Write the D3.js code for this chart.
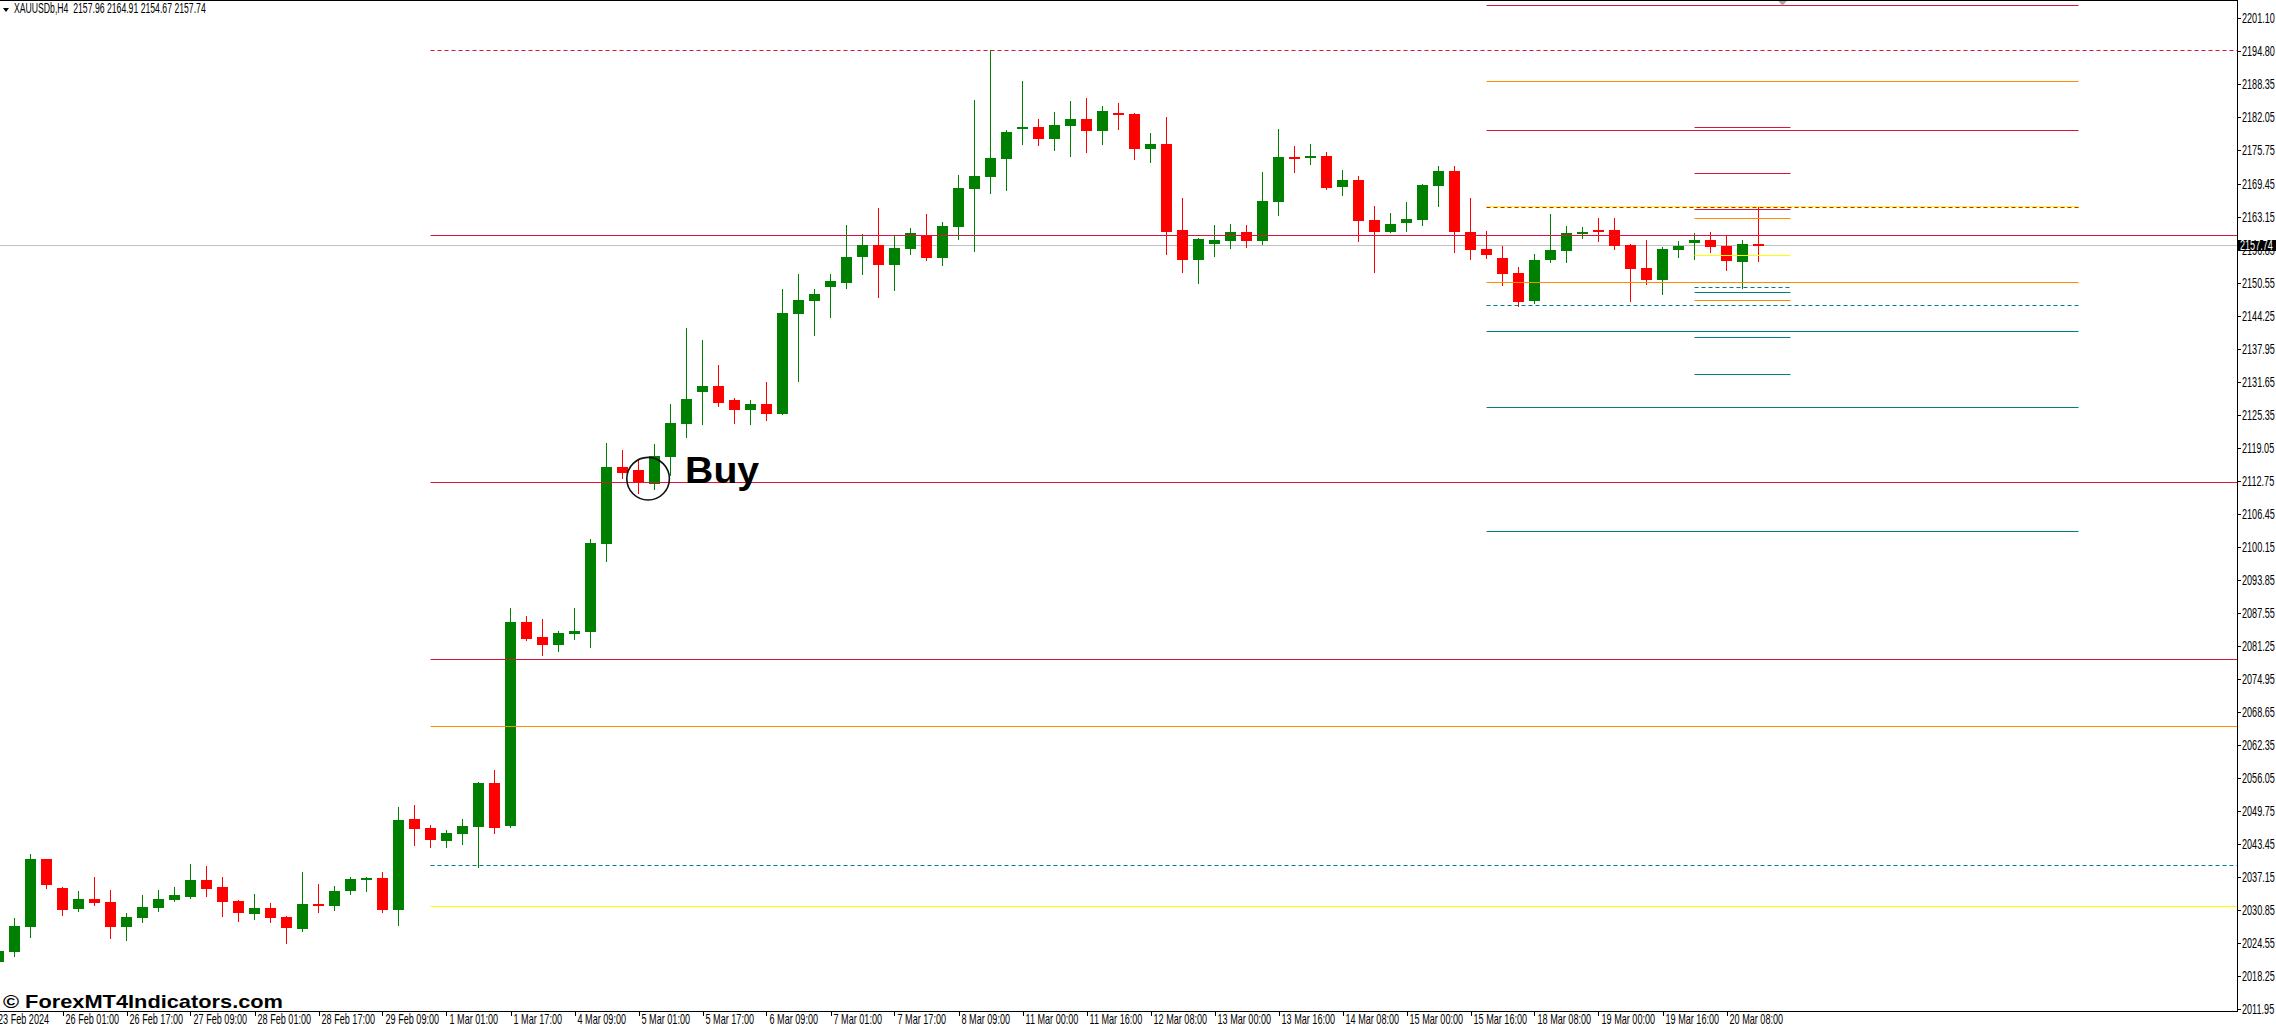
<!DOCTYPE html>
<html><head><meta charset="utf-8">
<script src="https://cdnjs.cloudflare.com/ajax/libs/d3/7.8.5/d3.min.js"></script>
<style>html,body{margin:0;padding:0;background:#fff;overflow:hidden}text{font-family:"Liberation Sans",Arial,sans-serif}</style>
</head><body><svg id="c" width="2276" height="1027"></svg>
<script>
// ---------- DATA (XAUUSDb, H4) ----------
const title = "XAUUSDb,H4  2157.96 2164.91 2154.67 2157.74";
const opens = [
2021.01,2022.86,2027.68,2040.62,2035.16,2031.07,2032.98,2032.42,2027.70,2029.41,
2031.32,2032.79,2033.35,2036.61,2035.28,2032.61,2030.18,2031.27,2029.55,2027.30,
2032.02,2031.64,2034.56,2036.67,2036.99,2030.94,2048.25,2046.53,2044.04,2045.38,
2046.71,2055.16,2046.90,2085.82,2082.95,2081.42,2083.52,2083.90,2100.69,2115.38,
2114.80,2112.17,2117.27,2123.58,2129.74,2130.89,2128.16,2126.24,2127.39,2125.55,
2144.56,2147.04,2149.71,2150.46,2155.42,2157.72,2153.90,2156.95,2159.63,2155.23,
2161.15,2168.41,2170.69,2174.11,2179.85,2180.23,2177.93,2180.42,2181.76,2179.46,
2182.90,2182.72,2176.03,2176.98,2160.60,2154.86,2157.90,2158.48,2160.20,2158.49,
2165.92,2174.50,2174.50,2174.71,2168.78,2170.13,2162.49,2160.20,2161.92,2162.49,
2168.98,2171.84,2160.20,2156.96,2155.24,2152.39,2147.03,2154.86,2156.57,2159.83,
2160.59,2160.59,2157.72,2153.34,2151.04,2156.77,2158.11,2158.68,2157.53,2154.48,
2157.96];
const highs = [
2023.45,2029.43,2041.60,2040.67,2035.25,2034.51,2037.19,2034.71,2030.32,2033.76,
2034.70,2035.28,2039.67,2039.29,2037.19,2032.75,2033.95,2032.23,2029.66,2038.16,
2035.85,2035.47,2037.18,2037.23,2038.14,2050.53,2050.93,2047.10,2046.14,2048.25,
2055.35,2057.58,2088.49,2086.97,2086.40,2084.10,2088.49,2101.64,2119.96,2118.63,
2116.72,2119.77,2127.45,2141.89,2139.60,2134.83,2128.54,2128.16,2131.59,2149.33,
2152.19,2149.33,2152.19,2161.53,2159.82,2164.78,2159.44,2160.96,2163.63,2162.11,
2171.08,2185.38,2194.95,2179.67,2189.00,2181.76,2183.09,2185.19,2185.76,2184.23,
2184.80,2182.91,2179.09,2182.13,2166.68,2159.06,2161.52,2161.72,2161.53,2171.64,
2179.85,2176.61,2176.99,2175.46,2172.03,2170.90,2165.15,2163.82,2165.92,2169.37,
2172.80,2172.80,2166.68,2160.39,2157.53,2153.54,2156.01,2163.63,2161.35,2161.16,
2162.87,2162.87,2157.91,2158.68,2157.33,2158.48,2160.01,2160.20,2159.44,2158.68,
2164.91];
const lows = [
2020.57,2022.15,2025.76,2035.13,2029.93,2030.68,2031.83,2025.58,2025.21,2028.64,
2030.74,2032.64,2033.23,2033.60,2029.78,2028.84,2029.22,2028.64,2024.63,2026.92,
2030.55,2030.93,2033.99,2034.56,2030.54,2028.08,2043.33,2042.95,2042.95,2043.46,
2039.14,2045.63,2046.70,2082.37,2079.51,2080.27,2082.56,2081.05,2097.45,2113.27,
2110.46,2111.21,2113.91,2121.15,2123.64,2127.07,2123.83,2123.64,2124.40,2125.45,
2131.84,2140.55,2143.98,2149.52,2152.19,2147.80,2149.13,2156.00,2154.86,2153.90,
2158.86,2156.57,2167.64,2168.22,2176.98,2176.78,2175.84,2174.70,2175.45,2176.97,
2179.84,2174.11,2173.54,2156.01,2152.57,2150.48,2155.62,2157.14,2157.33,2157.91,
2163.45,2171.64,2173.16,2168.48,2167.25,2158.48,2152.57,2160.12,2160.39,2161.53,
2165.16,2156.38,2155.05,2155.23,2150.09,2146.07,2146.65,2154.48,2154.48,2159.05,
2158.48,2156.96,2147.04,2150.28,2148.38,2155.42,2155.04,2156.38,2152.95,2149.53,
2154.67];
const closes = [
2023.06,2027.84,2040.64,2035.64,2030.88,2032.98,2032.16,2027.69,2029.55,2031.46,
2032.98,2033.75,2036.61,2034.94,2032.41,2030.37,2031.27,2029.41,2027.51,2032.03,
2031.64,2034.51,2036.80,2036.99,2030.92,2048.05,2046.39,2044.23,2045.57,2046.91,
2055.16,2046.53,2085.82,2082.56,2081.42,2083.72,2084.09,2100.89,2115.38,2114.23,
2112.51,2117.48,2123.78,2128.35,2130.89,2127.59,2126.24,2127.39,2125.55,2144.75,
2147.23,2148.38,2150.86,2155.42,2157.72,2153.90,2157.15,2160.01,2155.23,2161.35,
2168.59,2170.89,2174.31,2179.28,2180.23,2177.93,2180.61,2181.76,2179.46,2183.28,
2182.52,2176.02,2176.98,2160.20,2154.86,2158.87,2158.67,2160.20,2158.48,2166.11,
2174.50,2174.12,2174.70,2168.58,2170.12,2162.30,2160.20,2161.72,2162.68,2169.18,
2171.84,2160.20,2156.77,2155.81,2152.18,2146.84,2154.86,2156.78,2160.01,2160.20,
2160.39,2157.53,2153.14,2151.04,2156.96,2157.53,2158.68,2157.34,2154.67,2157.91,
2157.74];

const firstTimeLabel = "23 Feb 2024";
const timeTickBars = [4,8,12,16,20,24,28,32,36,40,44,48,52,56,60,64,68,72,76,80,84,88,92,96,100,104,108];
const timeTickLabels = ["26 Feb 01:00","26 Feb 17:00","27 Feb 09:00","28 Feb 01:00","28 Feb 17:00","29 Feb 09:00",
 "1 Mar 01:00","1 Mar 17:00","4 Mar 09:00","5 Mar 01:00","5 Mar 17:00","6 Mar 09:00","7 Mar 01:00","7 Mar 17:00",
 "8 Mar 09:00","11 Mar 00:00","11 Mar 16:00","12 Mar 08:00","13 Mar 00:00","13 Mar 16:00","14 Mar 08:00",
 "15 Mar 00:00","15 Mar 16:00","18 Mar 08:00","19 Mar 00:00","19 Mar 16:00","20 Mar 08:00"];
const priceTicks = [2201.10,2194.80,2188.35,2182.05,2175.75,2169.45,2163.15,2156.85,2150.55,2144.25,2137.95,
 2131.65,2125.35,2119.05,2112.75,2106.45,2100.15,2093.85,2087.55,2081.25,2074.95,2068.65,2062.35,2056.05,
 2049.75,2043.45,2037.15,2030.85,2024.55,2018.25,2011.95];
const bidPrice = 2157.74;

// indicator levels (values + kind)
const mainLevels = [2194.95,2159.57,2112.46,2078.76,2065.92,2039.47,2031.65];
const mainKinds  = ["Rd","R","R","R","O","Td","Y"];
const mainFromBar = 27;
const rightLevels = [2203.44,2188.94,2179.60,2165.10,2164.91,2150.61,2146.28,2141.26,2126.77,2103.17];
const rightKinds  = ["R","O","R","Y","Rd","O","Td","T","T","T"];
const rightBars = [93,130];
const shortLevels = [2180.23,2171.40,2164.53,2162.81,2155.76,2149.71,2148.70,2147.17,2140.12,2133.06];
const shortKinds  = ["R","R","R","O","Y","Td","T","O","T","T"];
const shortBars = [106,112];
const buySignal = {bar:40.6, price:2113.15, label:"Buy"};
const watermark = "\u00A9 ForexMT4Indicators.com";

// ---------- DRAW ----------
const W=2276, H=1027, AX=2237, AY=1011;
const svg = d3.select("#c");
const x = d3.scaleLinear().domain([0,110]).range([-1.5,1758.5]);
const y = d3.scaleLinear().domain([2204.45,2011.95]).range([0,1009.3]);
const py = p => Math.round(y(p)) + 0.5;
const style = {R:{c:"#dc143c"},Rd:{c:"#dc143c",d:"4,3"},O:{c:"#ff8c00"},Y:{c:"#ffff00"},T:{c:"#008080"},Td:{c:"#008080",d:"4,3"}};
const FS = 14, SX = 0.65;

svg.append("rect").attr("width",W).attr("height",H).attr("fill","#fff");
svg.append("defs").append("clipPath").attr("id","clip").append("rect").attr("x",0).attr("y",0).attr("width",AX).attr("height",AY);
const plot = svg.append("g").attr("clip-path","url(#clip)");

// bid line (behind)
plot.append("line").attr("x1",0).attr("x2",AX).attr("y1",py(bidPrice)).attr("y2",py(bidPrice))
  .attr("stroke","#c0c0c0").attr("stroke-width",1);

// candles
const idx = d3.range(opens.length);
const col = i => closes[i] >= opens[i] ? "#008000" : "#ff0000";
const cg = plot.append("g").attr("shape-rendering","crispEdges");
cg.selectAll("line.w").data(idx).join("line").attr("class","w")
  .attr("x1",i=>x(i)).attr("x2",i=>x(i))
  .attr("y1",i=>Math.round(y(highs[i]))).attr("y2",i=>Math.round(y(lows[i]))+1)
  .attr("stroke",col).attr("stroke-width",1);
cg.selectAll("rect.b").data(idx).join("rect").attr("class","b")
  .attr("x",i=>x(i)-5.5)
  .attr("y",i=>Math.round(y(Math.max(opens[i],closes[i]))))
  .attr("width",11)
  .attr("height",i=>Math.max(2, Math.round(y(Math.min(opens[i],closes[i]))) - Math.round(y(Math.max(opens[i],closes[i])))))
  .attr("fill",col);

// level lines
function levels(vals, kinds, x1, x2){
  plot.append("g").selectAll("line").data(vals).join("line")
    .attr("x1",x1).attr("x2",x2).attr("y1",v=>py(v)).attr("y2",v=>py(v))
    .attr("stroke",(v,k)=>style[kinds[k]].c).attr("stroke-width",1)
    .attr("stroke-dasharray",(v,k)=>style[kinds[k]].d||null);
}
levels(mainLevels, mainKinds, x(mainFromBar), AX);
levels(rightLevels, rightKinds, x(rightBars[0]), x(rightBars[1]));
levels(shortLevels, shortKinds, x(shortBars[0]), x(shortBars[1]));

// Buy signal
const bx = x(buySignal.bar), by = y(buySignal.price);
plot.append("circle").attr("cx",bx).attr("cy",by).attr("r",21.3).attr("fill","none").attr("stroke","#111").attr("stroke-width",1.6);
plot.append("text").attr("x",bx+37).attr("y",by+4.6).attr("font-size",36).attr("font-weight","bold")
  .attr("textLength",74).attr("lengthAdjust","spacingAndGlyphs").attr("fill","#000").text(buySignal.label);

// chart-shift marker
svg.append("path").attr("d",`M${x(111.5)-5},0L${x(111.5)+5},0L${x(111.5)},6Z`).attr("fill","#a8a8a8");

// frame
const fr = svg.append("g").attr("stroke","#000").attr("stroke-width",1).attr("shape-rendering","crispEdges");
fr.append("line").attr("x1",0).attr("x2",AX+0.5).attr("y1",0.5).attr("y2",0.5);
fr.append("line").attr("x1",AX+0.5).attr("x2",AX+0.5).attr("y1",0).attr("y2",AY+0.5);
fr.append("line").attr("x1",0).attr("x2",AX+0.5).attr("y1",AY+0.5).attr("y2",AY+0.5);

// price axis
const yt = svg.append("g");
priceTicks.forEach(v=>{
  const yy = Math.max(10, y(v));
  yt.append("line").attr("x1",AX).attr("x2",AX+4).attr("y1",Math.round(yy)+0.5).attr("y2",Math.round(yy)+0.5)
    .attr("stroke","#000").attr("shape-rendering","crispEdges");
  yt.append("text").attr("transform",`translate(${AX+5},${yy+5}) scale(${SX},1)`).attr("font-size",FS).attr("fill","#000")
    .text(v.toFixed(2));
});
// bid label box
const bY = y(bidPrice);
svg.append("rect").attr("x",AX+1).attr("y",Math.round(bY)-5).attr("width",W-AX-1).attr("height",11).attr("fill","#000");
svg.append("text").attr("transform",`translate(${AX+3},${bY+5}) scale(${SX},1)`).attr("font-size",FS).attr("fill","#fff")
  .text(bidPrice.toFixed(2));

// time axis
const xt = svg.append("g");
timeTickBars.forEach((b,k)=>{
  xt.append("line").attr("x1",Math.round(x(b))+0.5).attr("x2",Math.round(x(b))+0.5).attr("y1",AY).attr("y2",AY+5)
    .attr("stroke","#000").attr("shape-rendering","crispEdges");
  xt.append("text").attr("transform",`translate(${x(b)+3},1024) scale(${SX},1)`).attr("font-size",FS).attr("fill","#000")
    .text(timeTickLabels[k]);
});
xt.append("text").attr("transform",`translate(-2,1024) scale(${SX},1)`).attr("font-size",FS).attr("fill","#000").text(firstTimeLabel);

// title
svg.append("path").attr("d","M3,8L9,8L6,12Z").attr("fill","#000");
svg.append("text").attr("transform","translate(14,13) scale(0.62,1)").attr("font-size",FS).attr("fill","#000")
  .attr("xml:space","preserve").style("white-space","pre").text(title);

// watermark
svg.append("text").attr("x",3).attr("y",1008).attr("font-size",19).attr("font-weight","bold").attr("fill","#000")
  .attr("textLength",280).attr("lengthAdjust","spacingAndGlyphs").text(watermark);
</script></body></html>
